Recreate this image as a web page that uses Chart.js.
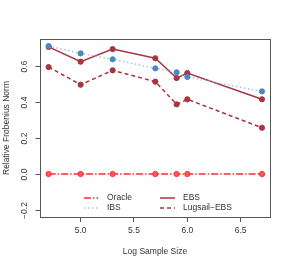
<!DOCTYPE html>
<html><head><meta charset="utf-8">
<script src="https://cdn.jsdelivr.net/npm/chart.js@4"></script>
<style>html,body{margin:0;padding:0;background:#fff}#c{display:block}</style>
</head><body>
<canvas id="c" width="291" height="267"></canvas>
<script>
const logSampleSize = [4.7, 5.0, 5.3, 5.7, 5.9, 6.0, 6.7];
const oracle = [0, 0, 0, 0, 0, 0, 0];
const ibs = [0.711, 0.670, 0.637, 0.587, 0.565, 0.539, 0.459];
const ebs = [0.706, 0.624, 0.694, 0.643, 0.533, 0.561, 0.415];
const lugsail = [0.594, 0.496, 0.576, 0.513, 0.387, 0.415, 0.257];
const xTicks = [5.0, 5.5, 6.0, 6.5];
const yTicks = [-0.2, 0.0, 0.2, 0.4, 0.6];
const legendLabels = ['Oracle', 'IBS', 'EBS', 'Lugsail\u2212EBS'];

const FONT = '"Liberation Sans", Arial, sans-serif';
const toPts = arr => arr.map((v, i) => ({x: logSampleSize[i], y: v}));

const RED = '#FF2A2A', DRED = '#A83440', BLUE = '#4A88C2', LBLUE = '#A6C4E4';
const series = [
  {label: legendLabels[0], data: toPts(oracle), borderColor: RED, borderDash: [7, 2, 1.5, 2], pointBackgroundColor: '#FF5A5A', pointBorderColor: RED},
  {label: legendLabels[1], data: toPts(ibs), borderColor: LBLUE, borderDash: [1.5, 2.5], pointBackgroundColor: BLUE, pointBorderColor: BLUE},
  {label: legendLabels[2], data: toPts(ebs), borderColor: DRED, borderDash: [], pointBackgroundColor: DRED, pointBorderColor: DRED},
  {label: legendLabels[3], data: toPts(lugsail), borderColor: DRED, borderDash: [4, 3], pointBackgroundColor: DRED, pointBorderColor: DRED}
].map(s => Object.assign(s, {borderWidth: 1.5, pointRadius: 2.6, pointBorderWidth: 1, fill: false, tension: 0}));

const extras = {
  id: 'extras',
  afterDraw(chart) {
    const ctx = chart.ctx, a = chart.chartArea, ys = chart.scales.y;
    ctx.save();
    // box
    ctx.strokeStyle = '#555'; ctx.lineWidth = 1;
    const L = Math.round(a.left) + 0.5;
    ctx.strokeRect(L, Math.round(a.top) + 0.5, Math.round(a.right - a.left), Math.round(a.bottom - a.top));
    ctx.fillStyle = '#333';
    ctx.font = '8.5px ' + FONT;
    // y ticks + labels rotated
    yTicks.forEach(v => {
      const py = Math.round(ys.getPixelForValue(v)) + 0.5;
      ctx.strokeStyle = '#555'; ctx.lineWidth = 1;
      ctx.beginPath(); ctx.moveTo(L, py); ctx.lineTo(L - 5, py); ctx.stroke();
      ctx.save();
      ctx.translate(25, py);
      ctx.rotate(-Math.PI / 2);
      ctx.textAlign = 'center'; ctx.textBaseline = 'middle';
      ctx.fillText(v.toFixed(1).replace('-', '\u2212'), 0, 0);
      ctx.restore();
    });
    // y title
    ctx.save();
    ctx.translate(7, (a.top + a.bottom) / 2);
    ctx.rotate(-Math.PI / 2);
    ctx.textAlign = 'center'; ctx.textBaseline = 'middle';
    ctx.fillText('Relative Frobenius Norm', 0, 0);
    ctx.restore();
    // x title
    ctx.textAlign = 'center'; ctx.textBaseline = 'middle';
    ctx.fillText('Log Sample Size', (a.left + a.right) / 2, 252);
    // legend
    const items = [
      {ds: 0, x1: 84, x2: 98, tx: 107, y: 198},
      {ds: 1, x1: 84, x2: 98, tx: 107, y: 208},
      {ds: 2, x1: 160, x2: 175, tx: 183, y: 198},
      {ds: 3, x1: 160, x2: 175, tx: 183, y: 208}
    ];
    items.forEach(it => {
      const d = chart.data.datasets[it.ds];
      ctx.strokeStyle = d.borderColor; ctx.lineWidth = 1.5;
      ctx.setLineDash(d.borderDash);
      ctx.beginPath(); ctx.moveTo(it.x1, it.y); ctx.lineTo(it.x2, it.y); ctx.stroke();
      ctx.setLineDash([]);
      ctx.fillStyle = '#333'; ctx.textAlign = 'left';
      ctx.fillText(d.label, it.tx, it.y);
    });
    ctx.restore();
  }
};

new Chart(document.getElementById('c'), {
  type: 'line',
  data: {datasets: series},
  options: {
    responsive: false, animation: false, devicePixelRatio: 1,
    layout: {padding: {top: 39, right: 21, left: 0, bottom: 0}},
    plugins: {legend: {display: false}, tooltip: {enabled: false}},
    scales: {
      x: {
        type: 'linear', min: 4.619, max: 6.775,
        afterBuildTicks: s => { s.ticks = xTicks.map(v => ({value: v})); },
        afterFit: s => { s.height = 50; },
        grid: {drawOnChartArea: false, drawTicks: true, tickLength: 5, color: '#555'},
        border: {display: false},
        ticks: {font: {size: 8.5, family: FONT}, color: '#333', padding: 4, maxRotation: 0, callback: v => Number(v).toFixed(1)}
      },
      y: {
        type: 'linear', min: -0.239, max: 0.75,
        afterBuildTicks: s => { s.ticks = yTicks.map(v => ({value: v})); },
        afterFit: s => { s.width = 40; },
        grid: {display: false},
        border: {display: false},
        ticks: {display: false}
      }
    }
  },
  plugins: [extras]
});
</script>
</body></html>
